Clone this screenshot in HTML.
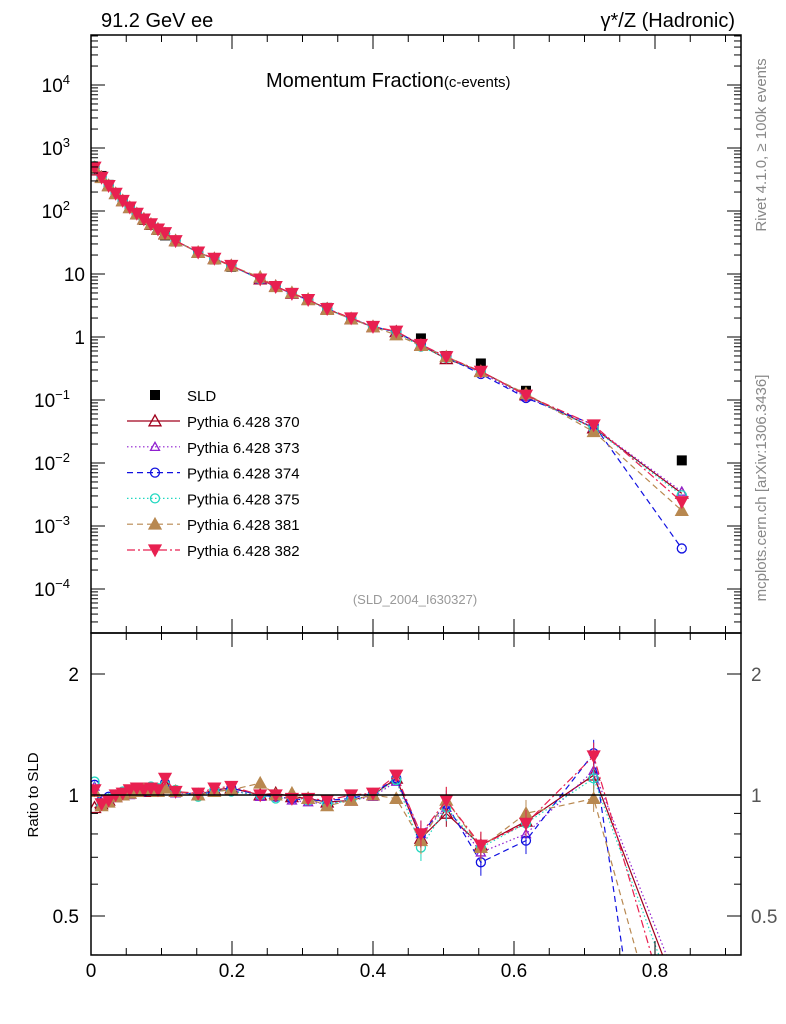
<!DOCTYPE html>
<html><head><meta charset="utf-8"><style>
html,body{margin:0;padding:0;background:#fff;font-family:"Liberation Sans",sans-serif;width:786px;height:1024px;overflow:hidden}
svg{display:block}
svg text{font-family:"Liberation Sans",sans-serif}
</style></head><body>
<svg id="c" width="786" height="1024" xmlns="http://www.w3.org/2000/svg"></svg>
<script>
const xs=[0.005,0.015,0.025,0.035,0.045,0.055,0.065,0.075,0.085,0.095,0.105,0.12,0.152,0.175,0.199,0.24,0.262,0.285,0.308,0.335,0.369,0.4,0.433,0.468,0.504,0.553,0.617,0.713,0.838];
const sld=[480,360,260,190,145,112,88,72,60,50,41,33,22,17,13,8.3,6.3,5.0,4.0,2.9,2.0,1.45,1.1,0.95,0.5,0.38,0.14,0.032,0.011];
const r370=[0.93,0.95,0.97,0.99,1.0,1.01,1.02,1.03,1.02,1.03,1.06,1.02,1.0,1.03,1.04,1.0,1.01,0.99,0.98,0.96,0.97,1.0,1.1,0.78,0.9,0.75,0.86,1.12,0.3];
const r373=[1.05,0.96,0.98,1.0,1.01,1.0,1.02,1.02,1.03,1.02,1.05,1.01,1.01,1.02,1.03,0.99,1.0,0.97,0.96,0.95,0.97,0.99,1.08,0.8,0.93,0.72,0.8,1.15,0.32];
const r374=[1.06,0.97,0.99,1.0,1.01,1.02,1.03,1.02,1.04,1.03,1.07,1.02,1.0,1.02,1.04,1.0,0.99,0.98,0.97,0.97,0.98,1.01,1.1,0.8,0.95,0.68,0.77,1.27,0.04];
const r375=[1.08,0.94,0.98,1.0,1.02,1.03,1.04,1.03,1.05,1.04,1.06,1.03,0.99,1.03,1.02,1.0,0.98,0.99,0.97,0.95,0.97,1.0,1.09,0.74,0.93,0.74,0.85,1.1,0.28];
const r381=[1.02,0.94,0.96,0.99,1.0,1.01,1.02,1.03,1.03,1.02,1.04,1.02,1.0,1.02,1.03,1.07,1.0,1.01,0.98,0.94,0.97,1.0,0.98,0.77,0.97,0.74,0.9,0.98,0.16];
const r382=[1.03,0.95,0.97,1.0,1.01,1.03,1.04,1.03,1.04,1.03,1.1,1.02,1.01,1.04,1.05,1.0,1.0,0.98,0.98,0.97,1.0,1.01,1.12,0.8,0.97,0.75,0.85,1.25,0.22];
const series=[
 {n:"Pythia 6.428 370",r:r370,c:"#a0001c",d:"",m:"tri",f:false},
 {n:"Pythia 6.428 373",r:r373,c:"#9020d0",d:"1.5,2.5",m:"tris",f:false},
 {n:"Pythia 6.428 374",r:r374,c:"#1010e0",d:"6,4",m:"circ",f:false},
 {n:"Pythia 6.428 375",r:r375,c:"#20d8c0",d:"1.5,2.5",m:"circ",f:false},
 {n:"Pythia 6.428 381",r:r381,c:"#b88850",d:"6,4",m:"tri",f:true},
 {n:"Pythia 6.428 382",r:r382,c:"#e82050",d:"8,3,2,3",m:"dtri",f:true}];
const S=document.getElementById('c'),NS="http://www.w3.org/2000/svg";
function el(t,a,p){const e=document.createElementNS(NS,t);for(const k in a)e.setAttribute(k,a[k]);(p||S).appendChild(e);return e;}
const X=v=>91+705*v, Y=v=>337-63*Math.log10(v), R=v=>795-121*Math.log2(v);
const defs=el('defs',{});
const c1=el('clipPath',{id:'cm'},defs);el('rect',{x:91,y:35,width:650,height:598},c1);
const c2=el('clipPath',{id:'cr'},defs);el('rect',{x:91,y:633,width:650,height:322},c2);
function marker(g,m,x,y,col,f){
 let e;
 if(m=="tri"||m=="tris"){const k=m=="tris"?4.5:6;e=el('polygon',{points:`${x},${y-k} ${x-k},${y+k*0.8} ${x+k},${y+k*0.8}`},g);}
 else if(m=="dtri"){e=el('polygon',{points:`${x},${y+6} ${x-6},${y-5} ${x+6},${y-5}`},g);}
 else e=el('circle',{cx:x,cy:y,r:4.5},g);
 e.setAttribute('fill',f?col:'none');e.setAttribute('stroke',col);e.setAttribute('stroke-width',1.3);
 return e;
}
const gs=el('g',{'clip-path':'url(#cm)'});

xs.forEach((x,i)=>{const p=el('rect',{x:X(x)-5,y:Y(sld[i])-5,width:10,height:10,fill:'#000'},gs);
 });
series.forEach(s=>{
 const g=el('g',{'clip-path':'url(#cm)'});
 
 const pts=xs.map((x,i)=>X(x)+','+Y(sld[i]*s.r[i])).join(' ');
 el('polyline',{points:pts,fill:'none',stroke:s.c,'stroke-width':1.2,'stroke-dasharray':s.d},g);
 xs.forEach((x,i)=>{const m=marker(g,s.m,X(x),Y(sld[i]*s.r[i]),s.c,s.f);
  });
 const gr=el('g',{'clip-path':'url(#cr)'});
 
 const pr=xs.map((x,i)=>X(x)+','+R(s.r[i])).join(' ');
 el('polyline',{points:pr,fill:'none',stroke:s.c,'stroke-width':1.2,'stroke-dasharray':s.d},gr);
 xs.forEach((x,i)=>{if(x>0.45){el('line',{x1:X(x),x2:X(x),y1:R(s.r[i]*1.08),y2:R(s.r[i]/1.08),stroke:s.c,'stroke-width':1},gr);}
  const m=marker(gr,s.m,X(x),R(s.r[i]),s.c,s.f);
  });
});
el('line',{x1:91,x2:741,y1:795,y2:795,stroke:'#000','stroke-width':1.5});
el('rect',{x:91,y:35,width:650,height:598,fill:'none',stroke:'#000','stroke-width':1.5});
el('rect',{x:91,y:633,width:650,height:322,fill:'none',stroke:'#000','stroke-width':1.5});
for(let e=-5;e<=4;e++){for(let k=1;k<10;k++){const v=k*Math.pow(10,e),y=Y(v);if(y<35||y>633)continue;
 const L=k==1?14:7;el('line',{x1:91,x2:91+L,y1:y,y2:y,stroke:'#000'});el('line',{x1:741,x2:741-L,y1:y,y2:y,stroke:'#000'});}}
const ylab=[["10",4],["10",3],["10",2],["10",null],["1",null],["10",-1],["10",-2],["10",-3],["10",-4]];
const yv=[4,3,2,1,0,-1,-2,-3,-4];
yv.forEach((e,i)=>{const t=el('text',{x:85,y:Y(Math.pow(10,e))+7,'text-anchor':'end','font-size':19});
 
 t.textContent=ylab[i][0];
 if(ylab[i][1]!==null){t.setAttribute('x',70);const s=el('tspan',{dy:-8,'font-size':13},t);s.textContent=e<0?'−'+(-e):e;}});
[0.4,0.5,0.6,0.7,0.8,0.9,1,2].forEach(v=>{const y=R(v),L=(v==1||v==2||v==0.5)?14:7;
 el('line',{x1:91,x2:91+L,y1:y,y2:y,stroke:'#000'});el('line',{x1:741,x2:741-L,y1:y,y2:y,stroke:'#000'});});
[[1,"1"],[2,"2"],[0.5,"0.5"]].forEach(([v,s])=>{
 const t=el('text',{x:79,y:R(v)+7,'text-anchor':'end','font-size':19});t.textContent=s;
 
 const t2=el('text',{x:751,y:R(v)+7,'font-size':19,fill:'#555'});t2.textContent=s;
 });
for(let i=0;i<=18;i++){const v=i*0.05,x=X(v);if(x>741)break;const L=i%4==0?14:7;
 el('line',{x1:x,x2:x,y1:955,y2:955-L,stroke:'#000'});el('line',{x1:x,x2:x,y1:633,y2:633-L,stroke:'#000'});el('line',{x1:x,x2:x,y1:35,y2:35+L,stroke:'#000'});el('line',{x1:x,x2:x,y1:633,y2:633+L,stroke:'#000'});}
["0","0.2","0.4","0.6","0.8"].forEach((s,i)=>{const t=el('text',{x:X(i*0.2),y:977,'text-anchor':'middle','font-size':19});t.textContent=s;
 });
function tx(s,a,n){const t=el('text',a);t.textContent=s;return t;}
tx("91.2 GeV ee",{x:101,y:27,'font-size':20},'energy-label');
tx("γ*/Z (Hadronic)",{x:735,y:27,'font-size':20,'text-anchor':'end'},'process-label');
const tt=tx("Momentum Fraction",{x:266,y:87,'font-size':20},'plot-title');
const ts=el('tspan',{'font-size':15},tt);ts.textContent="(c-events)";
tx("(SLD_2004_I630327)",{x:415,y:604,'font-size':13,fill:'#999','text-anchor':'middle'},'analysis-id');
tx("Ratio to SLD",{x:0,y:0,'font-size':15,transform:'translate(38,795) rotate(-90)','text-anchor':'middle'},'ratio-y-title');
tx("Rivet 4.1.0, ≥ 100k events",{x:0,y:0,'font-size':15,fill:'#888',transform:'translate(766,145) rotate(-90)','text-anchor':'middle'},'rivet-label');
tx("mcplots.cern.ch [arXiv:1306.3436]",{x:0,y:0,'font-size':15,fill:'#888',transform:'translate(766,488) rotate(-90)','text-anchor':'middle'},'mcplots-label');
const lg=el('g',{});
el('rect',{x:150,y:390,width:10,height:10,fill:'#000'},lg);
tx("SLD",{x:187,y:401,'font-size':15},'legend-entry-sld');
series.forEach((s,i)=>{const y=421+i*25.8;
 const g=el('g',{},lg);
 el('line',{x1:127,x2:180,y1:y,y2:y,stroke:s.c,'stroke-width':1.2,'stroke-dasharray':s.d},g);
 marker(g,s.m,155,y,s.c,s.f);
 const t=el('text',{x:187,y:y+6,'font-size':15},g);t.textContent=s.n;});
</script>
</body></html>
